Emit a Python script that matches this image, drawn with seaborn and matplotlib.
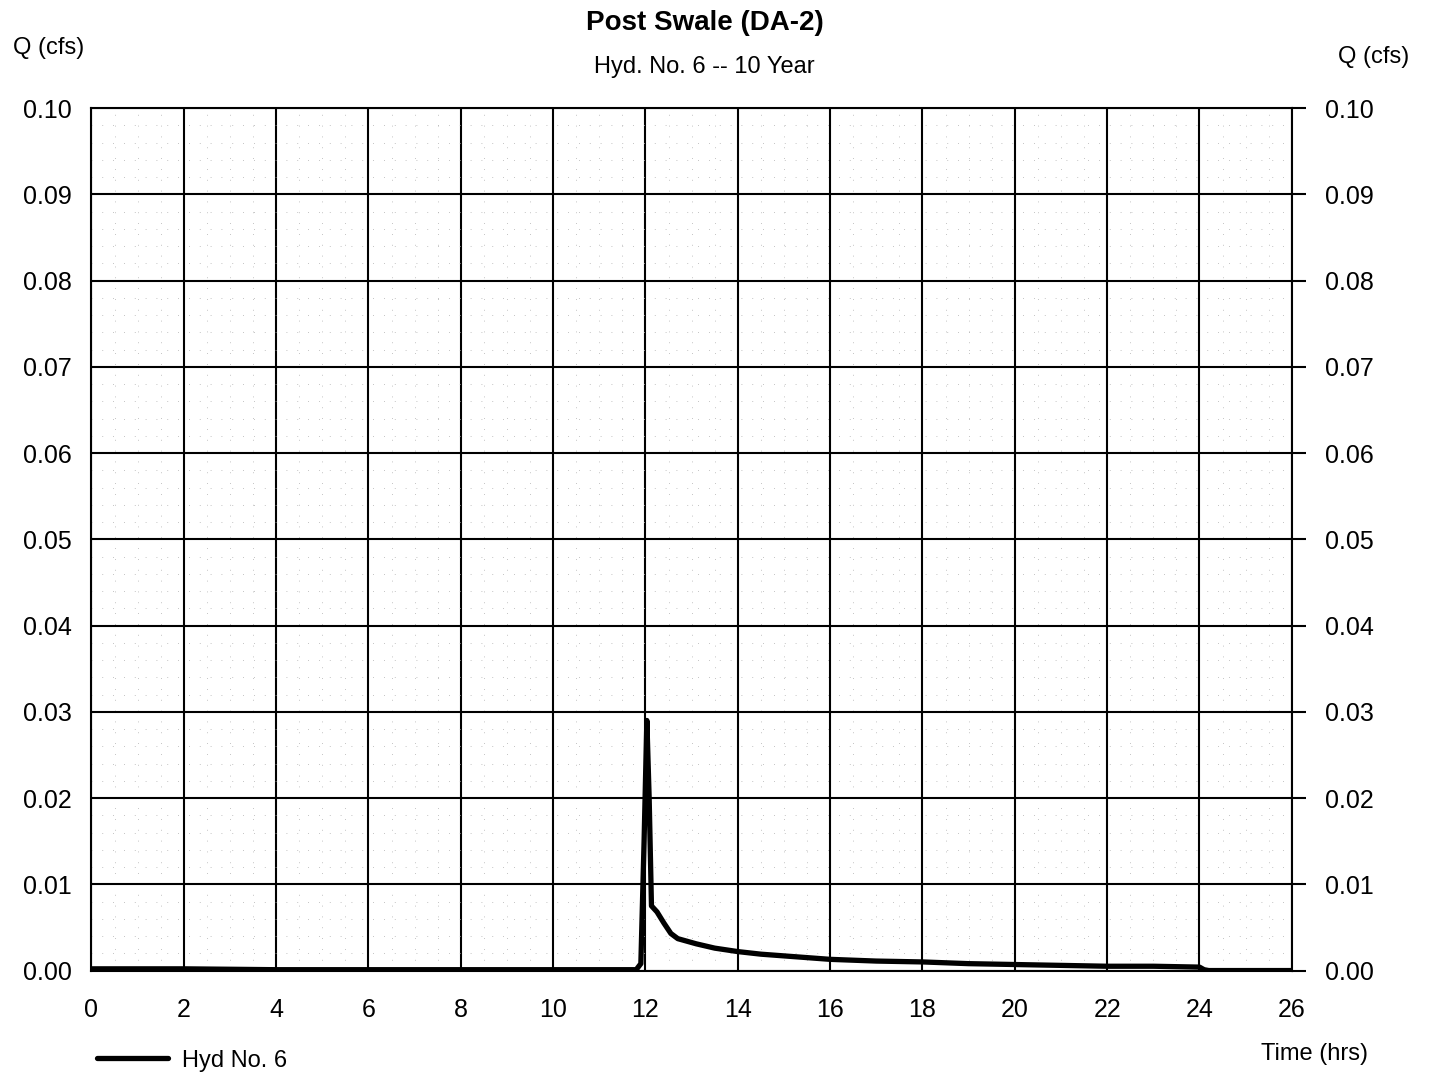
import matplotlib
matplotlib.use("Agg")
import matplotlib.pyplot as plt
import seaborn as sns
import pandas as pd
import numpy as np
from matplotlib.ticker import MultipleLocator

time_hrs = [0.0, 2.0, 4.0, 6.0, 8.0, 10.0, 11.8, 11.9, 11.97, 12.03, 12.08, 12.13, 12.25,
            12.4, 12.55, 12.7, 13.1, 13.5, 14.0, 14.5, 15.0, 16.0, 17.0, 18.0, 19.0,
            20.0, 21.0, 22.0, 23.0, 24.0, 24.1, 24.2, 26.0]
q_cfs = [0.0002, 0.0002, 0.0001, 0.0001, 0.0001, 0.0001, 0.0001, 0.0008, 0.0150, 0.0290,
         0.0200, 0.0075, 0.0068, 0.0055, 0.0043, 0.0037, 0.0031, 0.0026, 0.0022, 0.0019,
         0.0017, 0.0013, 0.0011, 0.0010, 0.0008, 0.0007, 0.0006, 0.0005, 0.0005, 0.0004,
         0.0001, 0.0, 0.0]

x_ticks = list(range(0, 27, 2))
y_ticks = [0.00, 0.01, 0.02, 0.03, 0.04, 0.05, 0.06, 0.07, 0.08, 0.09, 0.10]

df = pd.DataFrame({"Time (hrs)": time_hrs, "Q (cfs)": q_cfs})

sns.set_style("white")
plt.rcParams['font.family'] = ['Liberation Sans', 'DejaVu Sans']
plt.rcParams['text.color'] = 'black'
plt.rcParams['xtick.color'] = 'black'
plt.rcParams['ytick.color'] = 'black'

fig = plt.figure(figsize=(14.29, 10.82), dpi=100)
ax = fig.add_axes([0.064, 0.103, 0.84, 0.797])

sns.lineplot(data=df, x="Time (hrs)", y="Q (cfs)", ax=ax, color="black", linewidth=3.8,
             label="Hyd No. 6", legend=False)

ax.set_xlim(0, 26)
ax.set_ylim(0, 0.10)
ax.set_xticks(x_ticks)
ax.set_yticks(y_ticks)
ax.xaxis.set_minor_locator(MultipleLocator(0.5))
ax.yaxis.set_minor_locator(MultipleLocator(0.002))
ax.grid(which="major", color="black", linewidth=1.5)
ax.grid(which="minor", color="#b0b0b0", linewidth=0.6, linestyle=(0, (1, 12)))
ax.set_axisbelow(True)
for s in ax.spines.values():
    s.set_color("black")
    s.set_linewidth(1.5)

ax.set_xticklabels([str(t) for t in x_ticks], fontsize=18, color="black")
ax.set_yticklabels([f"{v:.2f}" for v in y_ticks], fontsize=18, color="black")
ax.tick_params(axis="x", which="major", length=0, pad=20)
ax.tick_params(axis="y", which="major", length=0, pad=14)
ax.tick_params(axis="both", which="minor", length=0)
ax.set_xlabel("")
ax.set_ylabel("")

ax2 = ax.twinx()
ax2.set_ylim(0, 0.10)
ax2.set_yticks(y_ticks)
ax2.set_yticklabels([f"{v:.2f}" for v in y_ticks], fontsize=18, color="black")
ax2.tick_params(axis="y", length=10, width=1.5, pad=14, direction="out", color="black")
for s in ax2.spines.values():
    s.set_visible(False)

fig.text(0.493, 0.979, "Post Swale (DA-2)", ha="center", va="center", fontsize=20,
         fontweight="bold", color="black")
fig.text(0.493, 0.938, "Hyd. No. 6 -- 10 Year", ha="center", va="center", fontsize=17, color="black")
fig.text(0.034, 0.956, "Q (cfs)", ha="center", va="center", fontsize=17, color="black")
fig.text(0.961, 0.947, "Q (cfs)", ha="center", va="center", fontsize=17, color="black")
fig.text(0.920, 0.026, "Time (hrs)", ha="center", va="center", fontsize=17, color="black")

leg = fig.legend(handles=ax.get_lines()[:1], labels=["Hyd No. 6"], loc="lower left",
                 bbox_to_anchor=(0.053, -0.010), frameon=False, fontsize=17, handlelength=3.0,
                 handletextpad=0.6)
for t in leg.get_texts():
    t.set_color("black")

fig.savefig("out.png", dpi=100, facecolor="white")
